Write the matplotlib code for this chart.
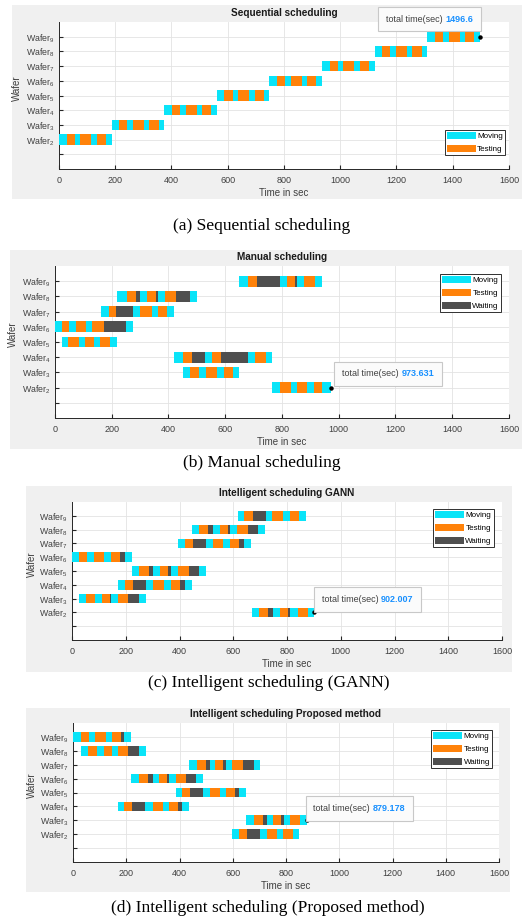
import matplotlib
matplotlib.use('Agg')
import matplotlib.pyplot as plt
from matplotlib.patches import Patch, Rectangle
from matplotlib.offsetbox import TextArea, HPacker, AnnotationBbox

plt.rcParams['font.family'] = ['Liberation Sans', 'DejaVu Sans']
plt.rcParams['mathtext.fontset'] = 'custom'
plt.rcParams['mathtext.rm'] = 'Liberation Sans'
plt.rcParams['mathtext.it'] = 'Liberation Sans'

# wafer numbers on the y axis (tick 1 is left blank)
wafers = [2, 3, 4, 5, 6, 7, 8, 9]
x_ticks = [0, 200, 400, 600, 800, 1000, 1200, 1400, 1600]

# (a) sequential: every wafer runs the same cycle, one after the other
seq_start = [0, 187.1, 374.2, 561.2, 748.3, 935.4, 1122.5, 1309.6]
seq_cycle = [('M', 27), ('T', 29), ('M', 20), ('T', 39), ('M', 19), ('T', 33), ('M', 20)]

# (b) manual scheduling: start time and segments (kind, seconds) per wafer
manual_start = {2: 765, 3: 450, 4: 419, 5: 23, 6: 0, 7: 161, 8: 220, 9: 650}
manual_segs = {
    2: [('M', 28), ('T', 40), ('M', 21), ('T', 35), ('M', 23), ('T', 29), ('M', 32.6)],
    3: [('M', 25), ('T', 31), ('M', 25), ('T', 41), ('M', 22), ('T', 35), ('M', 20)],
    4: [('M', 31), ('T', 34), ('W', 46), ('M', 23), ('T', 31), ('W', 95), ('M', 25), ('T', 38), ('M', 22)],
    5: [('M', 23), ('T', 39), ('M', 22), ('T', 31), ('M', 22), ('T', 34), ('M', 25)],
    6: [('M', 23), ('T', 28), ('M', 23), ('T', 36), ('M', 21), ('T', 40), ('W', 78), ('M', 25)],
    7: [('M', 28), ('T', 27), ('W', 60), ('M', 25), ('T', 40), ('M', 22), ('T', 33), ('M', 23)],
    8: [('M', 32), ('T', 34), ('W', 15), ('M', 23), ('T', 31), ('W', 7), ('M', 25), ('T', 40), ('W', 49), ('M', 23)],
    9: [('M', 29), ('T', 34), ('W', 80), ('M', 23), ('T', 29), ('W', 8), ('M', 23), ('T', 39), ('M', 26)],
}

# (c) GANN
gann_start = {2: 671, 3: 25, 4: 171, 5: 224, 6: 0, 7: 395, 8: 447, 9: 616}
gann_segs = {
    2: [('M', 24), ('T', 35), ('W', 17), ('M', 27), ('T', 29), ('W', 10), ('M', 27), ('T', 37), ('M', 25)],
    3: [('M', 26), ('T', 34), ('M', 27), ('T', 29), ('W', 5), ('M', 27), ('T', 37), ('W', 40), ('M', 25)],
    4: [('M', 26), ('T', 29), ('W', 50), ('M', 26), ('T', 40), ('M', 26), ('T', 34), ('W', 19), ('M', 26)],
    5: [('M', 26), ('T', 35), ('W', 17), ('M', 26), ('T', 31), ('W', 9), ('M', 26), ('T', 40), ('W', 38), ('M', 25)],
    6: [('M', 26), ('T', 29), ('M', 26), ('T', 38), ('M', 26), ('T', 35), ('W', 17), ('M', 26)],
    7: [('M', 25), ('T', 30), ('W', 48), ('M', 26), ('T', 38), ('M', 26), ('T', 35), ('W', 17), ('M', 26)],
    8: [('M', 25), ('T', 35), ('W', 17), ('M', 26), ('T', 31), ('W', 7), ('M', 26), ('T', 40), ('W', 38), ('M', 26)],
    9: [('M', 25), ('T', 31), ('W', 48), ('M', 25), ('T', 40), ('M', 26), ('T', 34), ('M', 25)],
}

# (d) proposed method
prop_start = {2: 599, 3: 648, 4: 168, 5: 385, 6: 217, 7: 434, 8: 30, 9: 0}
prop_segs = {
    2: [('M', 25), ('T', 29), ('W', 50), ('M', 24), ('T', 41), ('M', 21), ('T', 38), ('M', 21)],
    3: [('M', 30), ('T', 34), ('W', 18), ('M', 23), ('T', 30), ('W', 8), ('M', 24), ('T', 39), ('M', 25.2)],
    4: [('M', 24), ('T', 29), ('W', 51), ('M', 28), ('T', 39), ('M', 23), ('T', 33), ('W', 15), ('M', 25)],
    5: [('M', 24), ('T', 29), ('W', 50), ('M', 26), ('T', 39), ('M', 21), ('T', 34), ('W', 16), ('M', 24)],
    6: [('M', 31), ('T', 35), ('W', 16), ('M', 23), ('T', 30), ('W', 8), ('M', 25), ('T', 39), ('W', 39), ('M', 24)],
    7: [('M', 31), ('T', 34), ('W', 15), ('M', 21), ('T', 30), ('W', 9), ('M', 25), ('T', 40), ('W', 39), ('M', 24)],
    8: [('M', 28), ('T', 34), ('M', 23), ('T', 31), ('M', 23), ('T', 39), ('W', 41), ('M', 24)],
    9: [('M', 30), ('T', 30), ('M', 24), ('T', 39), ('M', 23), ('T', 34), ('W', 13), ('M', 25)],
}

titles = ['Sequential scheduling', 'Manual scheduling',
          'Intelligent scheduling GANN', 'Intelligent scheduling Proposed method']
captions = ['(a) Sequential scheduling', '(b) Manual scheduling',
            '(c) Intelligent scheduling (GANN)', '(d) Intelligent scheduling (Proposed method)']
total_times = ['1496.6', '973.631', '902.007', '879.178']
tip_points = [(1496.6, 9), (973.631, 2), (902.007, 2), (879.178, 3)]

colors = {'M': '#0AE4F8', 'T': '#FF820A', 'W': '#4F4F4F'}
names = {'M': 'Moving', 'T': 'Testing', 'W': 'Waiting'}

W, H = 525, 919
fig = plt.figure(figsize=(W / 100, H / 100), dpi=100)


def frac(x0, y0, x1, y1):
    return [x0 / W, 1 - y1 / H, (x1 - x0) / W, (y1 - y0) / H]


# pixel layout: gray panel, axes, caption y, ylabel x, legend anchor, tip box centre
layout = [
    dict(gray=(12, 5, 522, 199), ax=(59, 22, 509, 169), cap=226, ylab=22,
         leg=('lower right', (0.991, 0.095)), tip=(1317, 10.2)),
    dict(gray=(10, 250, 522, 449), ax=(55, 266, 509, 418), cap=463, ylab=18,
         leg=('upper right', (0.982, 0.947)), tip=(1174, 2.9)),
    dict(gray=(26, 486, 512, 672), ax=(72, 502, 502, 640), cap=683, ylab=37,
         leg=('upper right', (0.981, 0.949)), tip=(1100, 2.93)),
    dict(gray=(26, 708, 510, 892), ax=(73, 723, 499, 862), cap=908, ylab=37,
         leg=('upper right', (0.984, 0.95)), tip=(1076, 3.85)),
]

# build segment tables for the four panels
seq_start_d = dict(zip(wafers, seq_start))
seq_segs = {w: seq_cycle for w in wafers}
schedules = [(seq_start_d, seq_segs), (manual_start, manual_segs),
             (gann_start, gann_segs), (prop_start, prop_segs)]

for i, (starts, segs) in enumerate(schedules):
    L = layout[i]
    g = L['gray']
    fig.patches.append(Rectangle((g[0] / W, 1 - g[3] / H), (g[2] - g[0]) / W, (g[3] - g[1]) / H,
                                 transform=fig.transFigure, facecolor='#F0F0F0',
                                 edgecolor='none', zorder=-10))
    ax = fig.add_axes(frac(*L['ax']))
    ax.set_zorder(1)
    ax.set_facecolor('white')

    kinds_used = []
    for w in wafers:
        t = starts[w]
        for kind, dur in segs[w]:
            ax.barh(w, dur, left=t, height=0.7, color=colors[kind], edgecolor='none', zorder=3)
            if kind not in kinds_used:
                kinds_used.append(kind)
            t += dur

    ax.set_xlim(0, 1600)
    ax.set_ylim(0, 10)
    ax.set_xticks(x_ticks)
    ax.set_yticks(range(1, 10))
    ax.set_yticklabels([''] + ['Wafer$_{%d}$' % w for w in wafers])
    ax.tick_params(axis='x', direction='in', length=3, labelsize=6.5, colors='#262626',
                   labelcolor='#404040', pad=5)
    ax.tick_params(axis='y', direction='in', length=3, labelsize=6.3, colors='#262626',
                   labelcolor='#404040', pad=3)
    ax.grid(True, color='#E3E3E3', linewidth=0.6, zorder=0)
    ax.set_axisbelow(True)
    for s in ['top', 'right']:
        ax.spines[s].set_visible(False)
    for s in ['left', 'bottom']:
        ax.spines[s].set_color('#262626')
        ax.spines[s].set_linewidth(0.7)

    ax.set_title(titles[i], fontsize=7.2, fontweight='bold', color='#1a1a1a', pad=4)
    ax.set_xlabel('Time in sec', fontsize=7, color='#404040', labelpad=2)
    ax.set_ylabel('Wafer', fontsize=7, color='#404040')
    x0, y0, x1, y1 = L['ax']
    ax.yaxis.set_label_coords((L['ylab'] - x0) / (x1 - x0), 0.55)

    order = [k for k in ['M', 'T', 'W'] if k in kinds_used]
    handles = [Patch(facecolor=colors[k], edgecolor='none', label=names[k]) for k in order]
    leg = ax.legend(handles=handles, loc=L['leg'][0], bbox_to_anchor=L['leg'][1],
                    borderaxespad=0, fontsize=5.8, handlelength=3.6, handleheight=1.0,
                    handletextpad=0.2, labelspacing=0.55, borderpad=0.25,
                    fancybox=False, framealpha=1, edgecolor='#303030')
    leg.get_frame().set_linewidth(0.7)
    leg.set_zorder(6)

    # data tip
    px, py = tip_points[i]
    ax.plot(px, py, 'o', color='black', markersize=2.2, zorder=7, clip_on=False)
    box = HPacker(children=[
        TextArea('total time(sec)', textprops=dict(fontsize=6.5, color='#404040')),
        TextArea(total_times[i], textprops=dict(fontsize=6.5, color='#1890FF', fontweight='bold')),
    ], sep=2, align='baseline')
    ab = AnnotationBbox(box, (px, py), xybox=L['tip'], xycoords='data', boxcoords='data',
                        box_alignment=(0.5, 0.5), pad=0.55, annotation_clip=False,
                        bboxprops=dict(facecolor='#FBFBFB', edgecolor='#C8C8C8', linewidth=0.8))
    ab.set_zorder(8)
    ax.add_artist(ab)

    fig.text(0.5 * (g[0] + g[2]) / W if i >= 2 else 262 / W, 1 - L['cap'] / H, captions[i],
             family=['Liberation Serif'], fontsize=12.5, ha='center', va='center', color='black')

fig.savefig('out.png', dpi=100, facecolor='white')
